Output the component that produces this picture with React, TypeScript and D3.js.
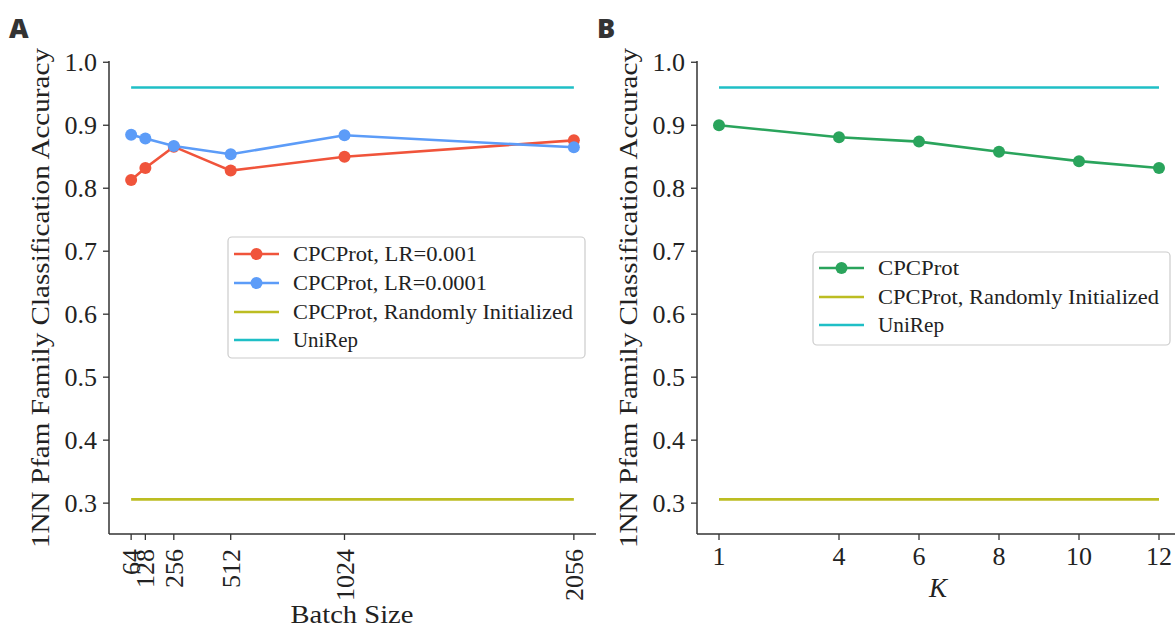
import React from "react";
import * as d3 from "d3";

// ---- Data ----
const batchSizes = [64, 128, 256, 512, 1024, 2056];
const lrHigh = [0.813, 0.832, 0.866, 0.828, 0.85, 0.876];
const lrLow = [0.885, 0.879, 0.867, 0.854, 0.884, 0.865];
const kValues = [1, 4, 6, 8, 10, 12];
const cpcK = [0.9, 0.881, 0.874, 0.858, 0.843, 0.832];
const randomInit = 0.306;
const uniRep = 0.96;
const yTicks = [0.3, 0.4, 0.5, 0.6, 0.7, 0.8, 0.9, 1.0];
const xTicksA = [64, 128, 256, 512, 1024, 2056];
const xTicksB = [1, 4, 6, 8, 10, 12];

const C_RED = "#f0543b";
const C_BLUE = "#5c9cf8";
const C_OLIVE = "#bcbd22";
const C_CYAN = "#1fbfc6";
const C_GREEN = "#2aa45c";
const AX = "#333333";
const SERIF = "'Liberation Serif', 'Times New Roman', serif";

const yScale = d3.scaleLinear().domain([0.251, 1.002]).range([534, 61]);

function pad(ext: number[]) {
  const r = ext[1] - ext[0];
  return [ext[0] - r * 0.05, ext[1] + r * 0.05];
}

const xA = d3.scaleLinear().domain(pad([64, 2056])).range([109, 596]);
const xB = d3.scaleLinear().domain(pad([1, 12])).range([697, 1181]);

function YAxis({ x0, labelX }: { x0: number; labelX: number }) {
  return (
    <g>
      <line x1={x0} x2={x0} y1={yScale.range()[1]} y2={yScale.range()[0]} stroke={AX} strokeWidth={1.5} />
      {yTicks.map((t) => (
        <g key={t}>
          <line x1={x0 - 6} x2={x0} y1={yScale(t)} y2={yScale(t)} stroke={AX} strokeWidth={1.3} />
          <text x={x0 - 12} y={yScale(t)} dy="0.35em" textAnchor="end" fontFamily={SERIF} fontSize={26} fill="#222">
            {t.toFixed(1)}
          </text>
        </g>
      ))}
      <text
        transform={`translate(${labelX},298) rotate(-90)`}
        textAnchor="middle"
        fontFamily={SERIF}
        fontSize={26}
        fill="#222"
        textLength={500}
        lengthAdjust="spacingAndGlyphs"
      >
        1NN Pfam Family Classification Accuracy
      </text>
    </g>
  );
}

function Legend({
  x,
  y,
  w,
  h,
  items,
}: {
  x: number;
  y: number;
  w: number;
  h: number;
  items: { label: string; color: string; marker: boolean; len: number; cy: number }[];
}) {
  return (
    <g>
      <rect x={x} y={y} width={w} height={h} rx={4} fill="white" fillOpacity={0.85} stroke="#cccccc" strokeWidth={1.2} />
      {items.map((it) => (
        <g key={it.label}>
          <line x1={x + 6} x2={x + 51} y1={it.cy} y2={it.cy} stroke={it.color} strokeWidth={2.6} />
          {it.marker && <circle cx={x + 28.5} cy={it.cy} r={6} fill={it.color} />}
          <text
            x={x + 65}
            y={it.cy}
            dy="0.35em"
            fontFamily={SERIF}
            fontSize={21}
            fill="#222"
            textLength={it.len}
            lengthAdjust="spacingAndGlyphs"
          >
            {it.label}
          </text>
        </g>
      ))}
    </g>
  );
}

export default function App() {
  const lineA = d3
    .line<number>()
    .x((_, i) => xA(batchSizes[i]))
    .y((d) => yScale(d));
  const lineB = d3
    .line<number>()
    .x((_, i) => xB(kValues[i]))
    .y((d) => yScale(d));

  return (
    <svg width={1175} height={631} style={{ position: "absolute", left: 0, top: 0, background: "white" }}>
      <rect width={1175} height={631} fill="white" />
      {/* Panel letters */}
      <text x={9} y={38} fontFamily="'Open Sans', 'DejaVu Sans', sans-serif" fontWeight={800} fontSize={27} fill="#333">
        A
      </text>
      <text x={597} y={38} fontFamily="'Open Sans', 'DejaVu Sans', sans-serif" fontWeight={800} fontSize={27} fill="#333">
        B
      </text>

      {/* ---------- Panel A ---------- */}
      <g>
        <line x1={xA(64)} x2={xA(2056)} y1={yScale(randomInit)} y2={yScale(randomInit)} stroke={C_OLIVE} strokeWidth={2.6} />
        <line x1={xA(64)} x2={xA(2056)} y1={yScale(uniRep)} y2={yScale(uniRep)} stroke={C_CYAN} strokeWidth={2.6} />
        <path d={lineA(lrHigh) || ""} fill="none" stroke={C_RED} strokeWidth={2.6} />
        {lrHigh.map((v, i) => (
          <circle key={"r" + i} cx={xA(batchSizes[i])} cy={yScale(v)} r={6} fill={C_RED} />
        ))}
        <path d={lineA(lrLow) || ""} fill="none" stroke={C_BLUE} strokeWidth={2.6} />
        {lrLow.map((v, i) => (
          <circle key={"b" + i} cx={xA(batchSizes[i])} cy={yScale(v)} r={6} fill={C_BLUE} />
        ))}

        <YAxis x0={109} labelX={49} />
        <line x1={109} x2={596} y1={534} y2={534} stroke={AX} strokeWidth={1.5} />
        {xTicksA.map((t) => (
          <g key={t}>
            <line x1={xA(t)} x2={xA(t)} y1={534} y2={540} stroke={AX} strokeWidth={1.3} />
            <text
              transform={`translate(${xA(t)},549) rotate(-90)`}
              dy="0.35em"
              textAnchor="end"
              fontFamily={SERIF}
              fontSize={26}
              fill="#222"
            >
              {t}
            </text>
          </g>
        ))}
        <text x={352} y={623} textAnchor="middle" fontFamily={SERIF} fontSize={26} fill="#222" textLength={123} lengthAdjust="spacingAndGlyphs">
          Batch Size
        </text>

        <Legend
          x={228}
          y={237}
          w={357}
          h={121}
          items={[
            { label: "CPCProt, LR=0.001", color: C_RED, marker: true, len: 184, cy: 254 },
            { label: "CPCProt, LR=0.0001", color: C_BLUE, marker: true, len: 194, cy: 283 },
            { label: "CPCProt, Randomly Initialized", color: C_OLIVE, marker: false, len: 280, cy: 312 },
            { label: "UniRep", color: C_CYAN, marker: false, len: 65, cy: 340 },
          ]}
        />
      </g>

      {/* ---------- Panel B ---------- */}
      <g>
        <line x1={xB(1)} x2={xB(12)} y1={yScale(randomInit)} y2={yScale(randomInit)} stroke={C_OLIVE} strokeWidth={2.6} />
        <line x1={xB(1)} x2={xB(12)} y1={yScale(uniRep)} y2={yScale(uniRep)} stroke={C_CYAN} strokeWidth={2.6} />
        <path d={lineB(cpcK) || ""} fill="none" stroke={C_GREEN} strokeWidth={2.6} />
        {cpcK.map((v, i) => (
          <circle key={"g" + i} cx={xB(kValues[i])} cy={yScale(v)} r={6} fill={C_GREEN} />
        ))}

        <YAxis x0={697} labelX={637} />
        <line x1={697} x2={1181} y1={534} y2={534} stroke={AX} strokeWidth={1.5} />
        {xTicksB.map((t) => (
          <g key={t}>
            <line x1={xB(t)} x2={xB(t)} y1={534} y2={540} stroke={AX} strokeWidth={1.3} />
            <text x={xB(t)} y={565} textAnchor="middle" fontFamily={SERIF} fontSize={26} fill="#222">
              {t}
            </text>
          </g>
        ))}
        <text x={938} y={597} textAnchor="middle" fontFamily={SERIF} fontStyle="italic" fontSize={27} fill="#222">
          K
        </text>

        <Legend
          x={813}
          y={252}
          w={357}
          h={93}
          items={[
            { label: "CPCProt", color: C_GREEN, marker: true, len: 81, cy: 268 },
            { label: "CPCProt, Randomly Initialized", color: C_OLIVE, marker: false, len: 281, cy: 297 },
            { label: "UniRep", color: C_CYAN, marker: false, len: 66, cy: 325 },
          ]}
        />
      </g>
    </svg>
  );
}
